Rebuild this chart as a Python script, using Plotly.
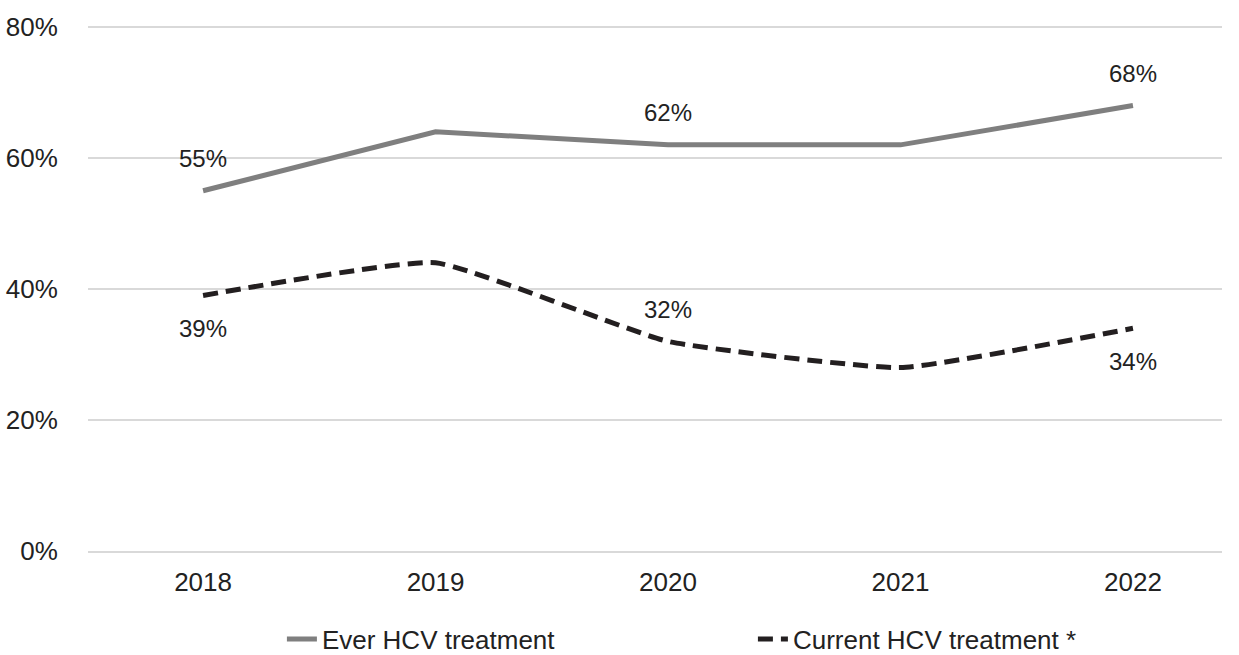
import plotly.graph_objects as go

years = [2018, 2019, 2020, 2021, 2022]
ever_hcv = [55, 64, 62, 62, 68]
current_hcv = [39, 44, 32, 28, 34]

# which points get a data label, and on which side
ever_labels = {2018: "up", 2020: "up", 2022: "up"}
current_labels = {2018: "down", 2020: "up", 2022: "down"}

FONT = "Liberation Sans, Arial, sans-serif"
TEXT = "#222222"

fig = go.Figure()
fig.add_trace(go.Scatter(
    x=years, y=ever_hcv, mode="lines", name="Ever HCV treatment",
    line=dict(color="#7f7f7f", width=5),
))
fig.add_trace(go.Scatter(
    x=years, y=current_hcv, mode="lines", name="Current HCV treatment *",
    line=dict(color="#231f20", width=5, dash="15px,8px", shape="spline", smoothing=0.4),
))

for series, labels in [(ever_hcv, ever_labels), (current_hcv, current_labels)]:
    for yr, v in zip(years, series):
        if yr not in labels:
            continue
        fig.add_annotation(
            x=yr, y=v, text=f"{v}%", showarrow=False,
            yshift=32 if labels[yr] == "up" else -33,
            font=dict(family=FONT, size=24, color=TEXT),
        )

fig.update_layout(
    width=1239, height=655,
    margin=dict(l=88, r=17, t=25, b=104, autoexpand=False),
    paper_bgcolor="white", plot_bgcolor="white",
    font=dict(family=FONT, size=26, color=TEXT),
    showlegend=True,
    legend=dict(
        orientation="h", x=0.171, xanchor="left", y=-0.123, yanchor="top",
        font=dict(size=26, color=TEXT), entrywidth=426, entrywidthmode="pixels",
    ),
    xaxis=dict(
        range=[2017.505, 2022.383], tickvals=years,
        showgrid=False, showline=True, linecolor="#d9d9d9",
        linewidth=1.5, ticks="outside", ticklen=7, tickcolor="rgba(0,0,0,0)",
    ),
    yaxis=dict(
        range=[0, 80.3], dtick=20, ticksuffix="%", showgrid=True,
        gridcolor="#d9d9d9", gridwidth=1.5, zeroline=False,
        ticks="outside", ticklen=24, tickcolor="rgba(0,0,0,0)",
    ),
)

fig.write_html("out.html", config={"displayModeBar": False},
               post_script="document.body.style.margin='0';")
